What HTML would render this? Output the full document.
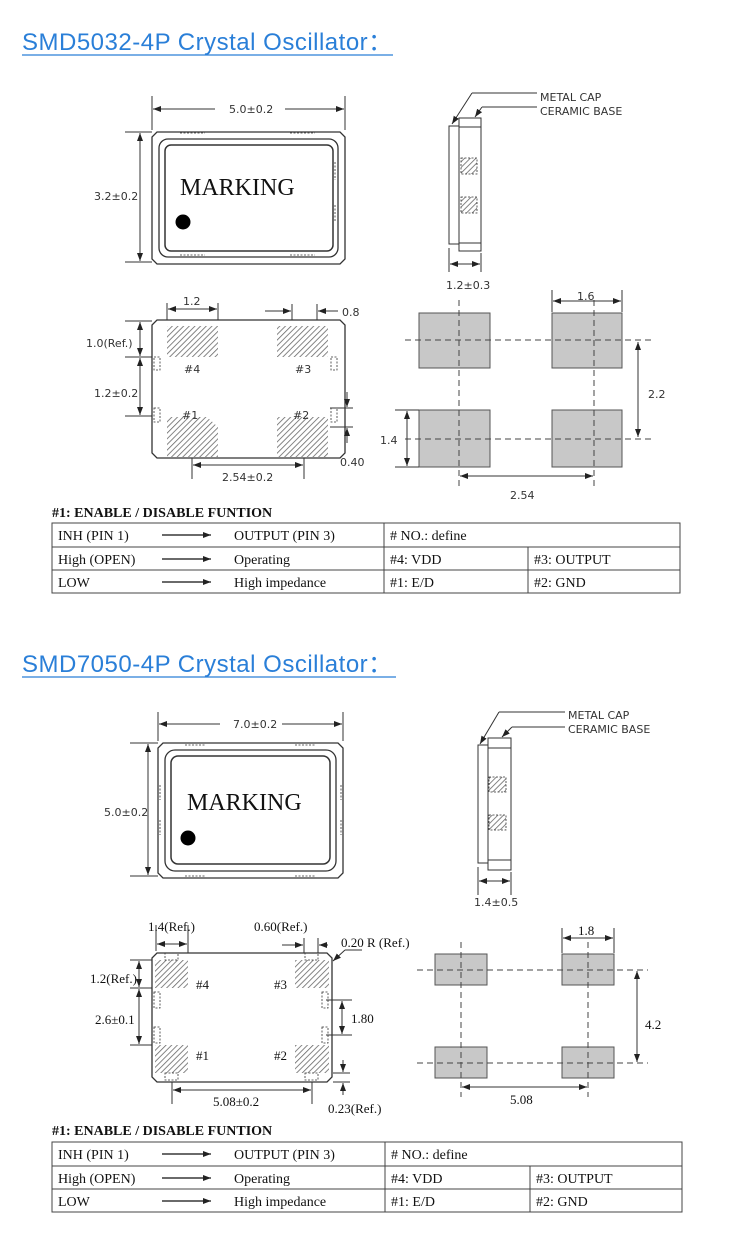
<!DOCTYPE html>
<html><head><meta charset="utf-8"><style>
html,body{margin:0;padding:0;background:#fff;}
svg{display:block;}
.t{font-family:"Liberation Serif",serif;fill:#111;}
.s{font-family:"DejaVu Sans","Liberation Sans",sans-serif;fill:#333;font-size:11px;}
.h{font-family:"Liberation Sans","DejaVu Sans",sans-serif;fill:#2a7fd8;font-size:24px;letter-spacing:0.5px;}
</style></head><body>
<svg width="750" height="1241" viewBox="0 0 750 1241" xmlns="http://www.w3.org/2000/svg">
<defs>
<pattern id="hat" width="4" height="4" patternUnits="userSpaceOnUse" patternTransform="rotate(45)">
<rect width="4" height="4" fill="#fff"/><line x1="0" y1="0" x2="0" y2="4" stroke="#666" stroke-width="1.6"/></pattern>
<marker id="a" markerWidth="8" markerHeight="6" refX="8" refY="3" orient="auto" markerUnits="userSpaceOnUse"><path d="M0,0 L8,3 L0,6 z" fill="#222"/></marker>
<marker id="b" markerWidth="8" markerHeight="6" refX="0" refY="3" orient="auto" markerUnits="userSpaceOnUse"><path d="M8,0 L0,3 L8,6 z" fill="#222"/></marker>
</defs>
<g stroke="#333" fill="none" stroke-width="1">

<!-- ===== SECTION 1 ===== -->
<line x1="22" y1="55" x2="393" y2="55" stroke="#2a7fd8" stroke-width="1.3"/>
<path d="M157,132 H340 L345,137 V259 L340,264 H157 L152,259 V137 Z" stroke-width="1.3"/>
<rect x="159" y="139" width="179" height="118" rx="9" stroke-width="1.3"/>
<rect x="165" y="145" width="168" height="106" rx="6" stroke-width="1.5"/>
<line x1="152" y1="96" x2="152" y2="130"/><line x1="345" y1="96" x2="345" y2="130"/>
<line x1="153" y1="109" x2="215" y2="109" marker-start="url(#b)"/><line x1="285" y1="109" x2="344" y2="109" marker-end="url(#a)"/>
<line x1="125" y1="132" x2="152" y2="132"/><line x1="125" y1="262" x2="152" y2="262"/>
<line x1="140" y1="133" x2="140" y2="261" marker-start="url(#b)" marker-end="url(#a)"/>
<g stroke-dasharray="2,1.5" stroke-width="0.8"><line x1="180" y1="133" x2="205" y2="133"/><line x1="290" y1="133" x2="315" y2="133"/><line x1="180" y1="255" x2="205" y2="255"/><line x1="290" y1="255" x2="315" y2="255"/><line x1="335" y1="162" x2="335" y2="180"/><line x1="335" y1="205" x2="335" y2="222"/></g>
<rect x="449" y="126" width="10" height="118"/>
<rect x="459" y="118" width="22" height="133"/>
<line x1="459" y1="127" x2="481" y2="127"/><line x1="459" y1="243" x2="481" y2="243"/>
<rect x="461" y="158" width="16" height="16" fill="url(#hat)" stroke-dasharray="2,1.5" stroke-width="0.8"/>
<rect x="461" y="197" width="16" height="16" fill="url(#hat)" stroke-dasharray="2,1.5" stroke-width="0.8"/>
<polyline points="472,93 537,93"/><line x1="472" y1="93" x2="452" y2="124" marker-end="url(#a)"/>
<polyline points="482,107 537,107"/><line x1="482" y1="107" x2="475" y2="117" marker-end="url(#a)"/>
<line x1="449" y1="248" x2="449" y2="272"/><line x1="481" y1="253" x2="481" y2="272"/>
<line x1="450" y1="264" x2="480" y2="264" marker-start="url(#b)" marker-end="url(#a)"/>
<path d="M157,320 H340 L345,325 V453 L340,458 H157 L152,453 V325 Z" stroke-width="1.3"/>
<rect x="167" y="326" width="51" height="31" fill="url(#hat)" stroke="none"/>
<rect x="277" y="326" width="51" height="31" fill="url(#hat)" stroke="none"/>
<path d="M167,417 H207 L218,427 V457 H167 Z" fill="url(#hat)" stroke="none"/>
<rect x="277" y="417" width="51" height="40" fill="url(#hat)" stroke="none"/>
<g stroke-dasharray="2,1.5" stroke-width="0.8"><rect x="154" y="357" width="6" height="13"/><rect x="154" y="408" width="6" height="14"/><rect x="331" y="357" width="6" height="13"/><rect x="331" y="408" width="6" height="14"/></g>
<line x1="167" y1="303" x2="167" y2="320"/><line x1="218" y1="303" x2="218" y2="320"/>
<line x1="168" y1="309" x2="217" y2="309" marker-start="url(#b)" marker-end="url(#a)"/>
<line x1="292" y1="304" x2="292" y2="320"/><line x1="317" y1="304" x2="317" y2="320"/>
<line x1="265" y1="311" x2="291" y2="311" marker-end="url(#a)"/><line x1="338" y1="311" x2="318" y2="311" marker-end="url(#a)"/>
<line x1="125" y1="321" x2="152" y2="321"/><line x1="125" y1="357" x2="152" y2="357"/><line x1="125" y1="416" x2="152" y2="416"/>
<line x1="140" y1="322" x2="140" y2="356" marker-start="url(#b)" marker-end="url(#a)"/>
<line x1="140" y1="358" x2="140" y2="415" marker-start="url(#b)" marker-end="url(#a)"/>
<line x1="330" y1="408" x2="353" y2="408"/><line x1="330" y1="427" x2="353" y2="427"/>
<line x1="347" y1="392" x2="347" y2="407" marker-end="url(#a)"/><line x1="347" y1="443" x2="347" y2="428" marker-end="url(#a)"/>
<line x1="192" y1="458" x2="192" y2="479"/><line x1="304" y1="458" x2="304" y2="479"/>
<line x1="193" y1="465" x2="303" y2="465" marker-start="url(#b)" marker-end="url(#a)"/>
<g fill="#c8c8c8" stroke="#555"><rect x="419" y="313" width="71" height="55"/><rect x="552" y="313" width="70" height="55"/><rect x="419" y="410" width="71" height="57"/><rect x="552" y="410" width="70" height="57"/></g>
<g stroke-dasharray="6,4" stroke="#444"><line x1="405" y1="340" x2="655" y2="340"/><line x1="405" y1="439" x2="655" y2="439"/><line x1="459" y1="300" x2="459" y2="487"/><line x1="594" y1="300" x2="594" y2="487"/></g>
<line x1="552" y1="290" x2="552" y2="312"/><line x1="622" y1="290" x2="622" y2="312"/>
<line x1="553" y1="301" x2="621" y2="301" marker-start="url(#b)" marker-end="url(#a)"/>
<line x1="638" y1="342" x2="638" y2="437" marker-start="url(#b)" marker-end="url(#a)"/>
<line x1="395" y1="410" x2="419" y2="410"/><line x1="395" y1="467" x2="419" y2="467"/>
<line x1="407" y1="411" x2="407" y2="466" marker-start="url(#b)" marker-end="url(#a)"/>
<line x1="460" y1="476" x2="593" y2="476" marker-start="url(#b)" marker-end="url(#a)"/>
<rect x="52" y="523" width="628" height="70" stroke="#444"/>
<line x1="52" y1="547" x2="680" y2="547" stroke="#444"/><line x1="52" y1="570" x2="680" y2="570" stroke="#444"/>
<line x1="384" y1="523" x2="384" y2="593" stroke="#444"/><line x1="528" y1="547" x2="528" y2="593" stroke="#444"/>
<g stroke="#111" stroke-width="1.3"><line x1="162" y1="535" x2="211" y2="535" marker-end="url(#a)"/><line x1="162" y1="559" x2="211" y2="559" marker-end="url(#a)"/><line x1="162" y1="582" x2="211" y2="582" marker-end="url(#a)"/></g>

<!-- ===== SECTION 2 ===== -->
<line x1="22" y1="677" x2="396" y2="677" stroke="#2a7fd8" stroke-width="1.3"/>
<path d="M163,743 H338 L343,748 V873 L338,878 H163 L158,873 V748 Z" stroke-width="1.3"/>
<rect x="165" y="750" width="171" height="121" rx="10" stroke-width="1.3"/>
<rect x="171" y="756" width="159" height="108" rx="7" stroke-width="1.5"/>
<line x1="158" y1="712" x2="158" y2="741"/><line x1="343" y1="712" x2="343" y2="741"/>
<line x1="159" y1="724" x2="220" y2="724" marker-start="url(#b)"/><line x1="282" y1="724" x2="342" y2="724" marker-end="url(#a)"/>
<line x1="130" y1="743" x2="158" y2="743"/><line x1="130" y1="876" x2="158" y2="876"/>
<line x1="148" y1="744" x2="148" y2="875" marker-start="url(#b)" marker-end="url(#a)"/>
<g stroke-dasharray="2,1.5" stroke-width="0.8"><line x1="185" y1="745" x2="205" y2="745"/><line x1="295" y1="745" x2="315" y2="745"/><line x1="185" y1="876" x2="205" y2="876"/><line x1="295" y1="876" x2="315" y2="876"/><line x1="160" y1="785" x2="160" y2="800"/><line x1="160" y1="820" x2="160" y2="835"/><line x1="341" y1="785" x2="341" y2="800"/><line x1="341" y1="820" x2="341" y2="835"/></g>
<rect x="478" y="745" width="10" height="118"/>
<rect x="488" y="738" width="23" height="132"/>
<line x1="488" y1="748" x2="511" y2="748"/><line x1="488" y1="860" x2="511" y2="860"/>
<rect x="489" y="777" width="17" height="15" fill="url(#hat)" stroke-dasharray="2,1.5" stroke-width="0.8"/>
<rect x="489" y="815" width="17" height="15" fill="url(#hat)" stroke-dasharray="2,1.5" stroke-width="0.8"/>
<line x1="499" y1="712" x2="565" y2="712"/><line x1="499" y1="712" x2="480" y2="744" marker-end="url(#a)"/>
<line x1="512" y1="727" x2="565" y2="727"/><line x1="512" y1="727" x2="502" y2="737" marker-end="url(#a)"/>
<line x1="478" y1="867" x2="478" y2="895"/><line x1="511" y1="872" x2="511" y2="895"/>
<line x1="479" y1="881" x2="510" y2="881" marker-start="url(#b)" marker-end="url(#a)"/>
<path d="M157,953 H327 L332,958 V1077 L327,1082 H157 L152,1077 V958 Z" stroke-width="1.3"/>
<rect x="155" y="960" width="33" height="28" fill="url(#hat)" stroke="none"/>
<rect x="295" y="960" width="34" height="28" fill="url(#hat)" stroke="none"/>
<rect x="155" y="1045" width="33" height="28" fill="url(#hat)" stroke="none"/>
<rect x="295" y="1045" width="34" height="28" fill="url(#hat)" stroke="none"/>
<g stroke-dasharray="2,1.5" stroke-width="0.8"><rect x="165" y="953" width="13" height="7"/><rect x="305" y="953" width="13" height="7"/><rect x="165" y="1073" width="13" height="7"/><rect x="305" y="1073" width="13" height="7"/><rect x="154" y="992" width="6" height="16"/><rect x="154" y="1027" width="6" height="16"/><rect x="322" y="992" width="6" height="16"/><rect x="322" y="1027" width="6" height="16"/></g>
<line x1="156" y1="925" x2="156" y2="951"/><line x1="188" y1="925" x2="188" y2="953"/>
<line x1="157" y1="944" x2="187" y2="944" marker-start="url(#b)" marker-end="url(#a)"/>
<line x1="304" y1="938" x2="304" y2="953"/><line x1="318" y1="938" x2="318" y2="953"/>
<line x1="282" y1="945" x2="303" y2="945" marker-end="url(#a)"/><line x1="328" y1="945" x2="319" y2="945" marker-end="url(#a)"/>
<polyline points="362,950 345,950"/><line x1="345" y1="950" x2="333" y2="961" marker-end="url(#a)"/>
<line x1="130" y1="960" x2="152" y2="960"/><line x1="130" y1="988" x2="152" y2="988"/><line x1="130" y1="1045" x2="152" y2="1045"/>
<line x1="139" y1="961" x2="139" y2="987" marker-start="url(#b)" marker-end="url(#a)"/>
<line x1="139" y1="989" x2="139" y2="1044" marker-start="url(#b)" marker-end="url(#a)"/>
<line x1="326" y1="1000" x2="352" y2="1000"/><line x1="326" y1="1035" x2="352" y2="1035"/>
<line x1="342" y1="1001" x2="342" y2="1034" marker-start="url(#b)" marker-end="url(#a)"/>
<line x1="333" y1="1073" x2="350" y2="1073"/><line x1="333" y1="1082" x2="350" y2="1082"/>
<line x1="343" y1="1060" x2="343" y2="1072" marker-end="url(#a)"/><line x1="343" y1="1095" x2="343" y2="1083" marker-end="url(#a)"/>
<line x1="172" y1="1082" x2="172" y2="1104"/><line x1="312" y1="1082" x2="312" y2="1104"/>
<line x1="173" y1="1090" x2="311" y2="1090" marker-start="url(#b)" marker-end="url(#a)"/>
<g fill="#c8c8c8" stroke="#555"><rect x="435" y="954" width="52" height="31"/><rect x="562" y="954" width="52" height="31"/><rect x="435" y="1047" width="52" height="31"/><rect x="562" y="1047" width="52" height="31"/></g>
<g stroke-dasharray="6,4" stroke="#444"><line x1="417" y1="970" x2="648" y2="970"/><line x1="417" y1="1063" x2="648" y2="1063"/><line x1="461" y1="942" x2="461" y2="1097"/><line x1="588" y1="942" x2="588" y2="1097"/></g>
<line x1="562" y1="928" x2="562" y2="953"/><line x1="614" y1="928" x2="614" y2="953"/>
<line x1="563" y1="938" x2="613" y2="938" marker-start="url(#b)" marker-end="url(#a)"/>
<line x1="637" y1="971" x2="637" y2="1062" marker-start="url(#b)" marker-end="url(#a)"/>
<line x1="462" y1="1087" x2="587" y2="1087" marker-start="url(#b)" marker-end="url(#a)"/>
<rect x="52" y="1142" width="630" height="70" stroke="#444"/>
<line x1="52" y1="1166" x2="682" y2="1166" stroke="#444"/><line x1="52" y1="1189" x2="682" y2="1189" stroke="#444"/>
<line x1="385" y1="1142" x2="385" y2="1212" stroke="#444"/><line x1="530" y1="1166" x2="530" y2="1212" stroke="#444"/>
<g stroke="#111" stroke-width="1.3"><line x1="162" y1="1154" x2="211" y2="1154" marker-end="url(#a)"/><line x1="162" y1="1178" x2="211" y2="1178" marker-end="url(#a)"/><line x1="162" y1="1201" x2="211" y2="1201" marker-end="url(#a)"/></g>
</g>
<circle cx="183" cy="222" r="7.5" fill="#000"/>
<circle cx="188" cy="838" r="7.5" fill="#000"/>

<text class="h" x="22" y="50">SMD5032-4P Crystal Oscillator：</text>
<text class="h" x="22" y="672">SMD7050-4P Crystal Oscillator：</text>
<g class="s">
<text x="229" y="113">5.0±0.2</text>
<text x="94" y="200">3.2±0.2</text>
<text x="540" y="101">METAL CAP</text>
<text x="540" y="115">CERAMIC BASE</text>
<text x="446" y="289">1.2±0.3</text>
<text x="183" y="305">1.2</text>
<text x="342" y="316">0.8</text>
<text x="86" y="347">1.0(Ref.)</text>
<text x="94" y="397">1.2±0.2</text>
<text x="184" y="373">#4</text>
<text x="295" y="373">#3</text>
<text x="182" y="419">#1</text>
<text x="293" y="419">#2</text>
<text x="340" y="466">0.40</text>
<text x="222" y="481">2.54±0.2</text>
<text x="577" y="300">1.6</text>
<text x="648" y="398">2.2</text>
<text x="380" y="444">1.4</text>
<text x="510" y="499">2.54</text>
<text x="233" y="728">7.0±0.2</text>
<text x="104" y="816">5.0±0.2</text>
<text x="568" y="719">METAL CAP</text>
<text x="568" y="733">CERAMIC BASE</text>
<text x="474" y="906">1.4±0.5</text>
</g>
<g class="t" font-size="13">
<text x="148" y="931">1.4(Ref.)</text>
<text x="254" y="931">0.60(Ref.)</text>
<text x="341" y="947">0.20 R (Ref.)</text>
<text x="90" y="983">1.2(Ref.)</text>
<text x="95" y="1024">2.6±0.1</text>
<text x="196" y="989">#4</text>
<text x="274" y="989">#3</text>
<text x="196" y="1060">#1</text>
<text x="274" y="1060">#2</text>
<text x="351" y="1023">1.80</text>
<text x="328" y="1113">0.23(Ref.)</text>
<text x="213" y="1106">5.08±0.2</text>
<text x="578" y="935">1.8</text>
<text x="645" y="1029">4.2</text>
<text x="510" y="1104">5.08</text>
</g>
<g class="t" font-size="24"><text x="180" y="195">MARKING</text><text x="187" y="810">MARKING</text></g>
<g class="t" font-size="14">
<text x="52" y="517" font-weight="bold">#1: ENABLE / DISABLE FUNTION</text>
<text x="58" y="540">INH (PIN 1)</text><text x="234" y="540">OUTPUT (PIN 3)</text><text x="390" y="540"># NO.: define</text>
<text x="58" y="564">High (OPEN)</text><text x="234" y="564">Operating</text><text x="390" y="564">#4: VDD</text><text x="534" y="564">#3: OUTPUT</text>
<text x="58" y="587">LOW</text><text x="234" y="587">High impedance</text><text x="390" y="587">#1: E/D</text><text x="534" y="587">#2: GND</text>
<text x="52" y="1135" font-weight="bold">#1: ENABLE / DISABLE FUNTION</text>
<text x="58" y="1159">INH (PIN 1)</text><text x="234" y="1159">OUTPUT (PIN 3)</text><text x="391" y="1159"># NO.: define</text>
<text x="58" y="1183">High (OPEN)</text><text x="234" y="1183">Operating</text><text x="391" y="1183">#4: VDD</text><text x="536" y="1183">#3: OUTPUT</text>
<text x="58" y="1206">LOW</text><text x="234" y="1206">High impedance</text><text x="391" y="1206">#1: E/D</text><text x="536" y="1206">#2: GND</text>
</g>
</svg>
</body></html>
